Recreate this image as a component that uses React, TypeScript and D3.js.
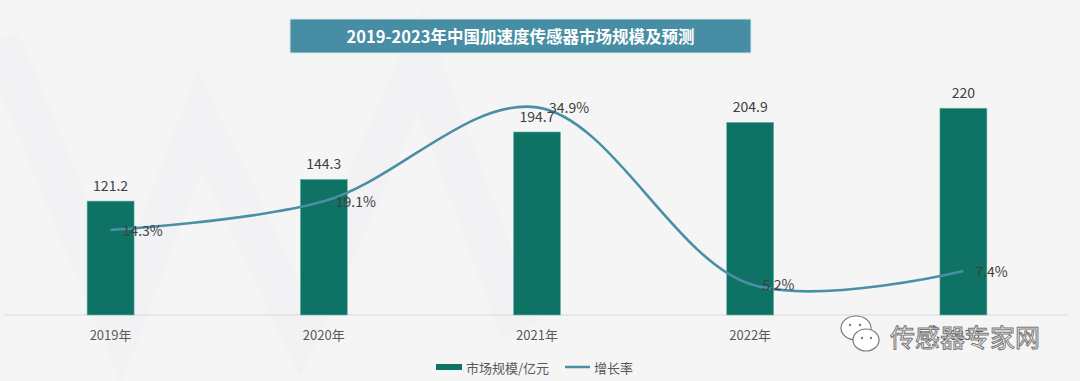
import React from "react";
import * as d3 from "d3";

const years = ["2019年", "2020年", "2021年", "2022年", "2023年"];
const marketSize = [121.2, 144.3, 194.7, 204.9, 220];
const growthRate = [14.3, 19.1, 34.9, 5.2, 7.4];
const growthLabels = ["14.3%", "19.1%", "34.9%", "5.2%", "7.4%"];
const sizeLabels = ["121.2", "144.3", "194.7", "204.9", "220"];
const title = "2019-2023年中国加速度传感器市场规模及预测";
const legendLabels = ["市场规模/亿元", "增长率"];

const W = 1080;
const H = 381;
const baseY = 315;
const FONT = "'Microsoft YaHei', 'Noto Sans CJK SC', 'Noto Sans', sans-serif";

export default function App() {
  const x = d3.scaleBand<string>().domain(years).range([4, 1070]).padding(0);
  const y = d3.scaleLinear().domain([0, 250]).range([baseY, baseY - 235]);
  const y2 = d3.scaleLinear().domain([0, 40]).range([baseY, baseY - 238]);
  const barW = 47;
  const cx = (d: string) => (x(d) as number) + x.bandwidth() / 2;

  const pts: [number, number][] = years.map((d, i) => [cx(d), y2(growthRate[i])]);
  const line = d3.line().curve(d3.curveCatmullRom.alpha(0.5))(pts) || "";

  return (
    <svg width={W} height={H} style={{ position: "absolute", left: 0, top: 0, display: "block" }} fontFamily={FONT}>
      <rect x={0} y={0} width={W} height={H} fill="#f5f5f6" />
      {/* faint background shapes */}
      <path d="M0,40 L120,330 L200,120 L300,330 L420,60 L520,330" fill="none" stroke="#f0f0f2" strokeWidth={40} opacity={0.5} />
      {/* title */}
      <rect x={290} y={19} width={461} height={34} fill="#478ea4" stroke="#d5e6ec" strokeWidth={1} />
      <text x={520.5} y={36} textAnchor="middle" dominantBaseline="central" fill="#ffffff" fontSize={16.5} fontWeight="bold">
        {title}
      </text>
      {/* baseline */}
      <line x1={4} x2={1068} y1={baseY} y2={baseY} stroke="#d9d9d9" strokeWidth={1} />
      {/* bars */}
      {years.map((d, i) => (
        <rect key={d} x={cx(d) - barW / 2} y={y(marketSize[i])} width={barW} height={baseY - y(marketSize[i])}
          fill="#0e7264" stroke="#6fb7ad" strokeWidth={0.6} />
      ))}
      {years.map((d, i) => (
        <text key={"v" + d} x={cx(d)} y={y(marketSize[i]) - 16} textAnchor="middle" dominantBaseline="central"
          fontSize={14} fill="#404040">{sizeLabels[i]}</text>
      ))}
      {/* line */}
      <path d={line} fill="none" stroke="#4a8fa6" strokeWidth={2.6} />
      {years.map((d, i) => (
        <text key={"g" + d} x={cx(d) + 12} y={y2(growthRate[i])} dominantBaseline="central"
          fontSize={14} fill="#404040">{growthLabels[i]}</text>
      ))}
      {/* x labels (the last one is covered by the watermark in the original) */}
      {years.map((d) => (
        <text key={"x" + d} x={cx(d)} y={334} textAnchor="middle" dominantBaseline="central" fontSize={13} fill="#595959">{d}</text>
      ))}
      {/* legend */}
      <rect x={436} y={364} width={26} height={6} fill="#0e7264" />
      <text x={466} y={367} dominantBaseline="central" fontSize={13} fill="#595959">{legendLabels[0]}</text>
      <line x1={565} x2={590} y1={367} y2={367} stroke="#4a8fa6" strokeWidth={2.5} />
      <text x={594} y={367} dominantBaseline="central" fontSize={13} fill="#595959">{legendLabels[1]}</text>
      {/* watermark */}
      <g stroke="#7a7a7a" strokeWidth={1.2} fill="#ffffff">
        <ellipse cx={856} cy={328} rx={15} ry={12} />
        <ellipse cx={866} cy={340} rx={13} ry={11} />
      </g>
      <g fill="#7a7a7a">
        <circle cx={850} cy={325} r={1.2} />
        <circle cx={860} cy={325} r={1.2} />
        <circle cx={862} cy={338} r={1.2} />
        <circle cx={871} cy={338} r={1.2} />
      </g>
      <text x={890} y={336} dominantBaseline="central" fontSize={25} fill="#ffffff" stroke="#777777" strokeWidth={1}>传感器专家网</text>
    </svg>
  );
}
